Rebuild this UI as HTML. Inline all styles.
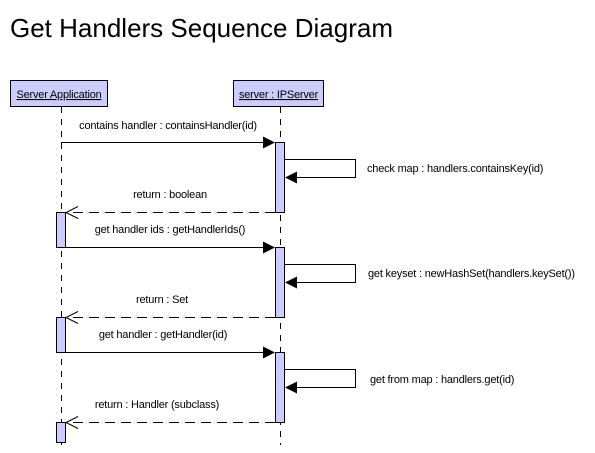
<!DOCTYPE html>
<html><head><style>
html,body{margin:0;padding:0;background:#fff;}
svg{display:block;}
text{font-family:"Liberation Sans",Arial,sans-serif;font-size:11px;fill:#000;letter-spacing:-0.2px;}
</style></head><body>
<svg width="595" height="453" viewBox="0 0 595 453">
<text x="10" y="37" style="font-size:26px;letter-spacing:0">Get Handlers Sequence Diagram</text>
<rect x="10.5" y="80.5" width="97" height="26" fill="#ccccff" stroke="#000"/>
<text x="59" y="98" text-anchor="middle" text-decoration="underline">Server Application</text>
<rect x="233.5" y="80.5" width="90" height="26" fill="#ccccff" stroke="#000"/>
<text x="278.5" y="98" text-anchor="middle" text-decoration="underline">server : IPServer</text>
<g stroke="#000" stroke-dasharray="6,6">
<line x1="61.5" y1="107" x2="61.5" y2="445"/>
<line x1="280.5" y1="107" x2="280.5" y2="445"/>
</g>
<g fill="#ccccff" stroke="#000">
<rect x="275.5" y="142.5" width="9" height="70"/>
<rect x="275.5" y="247.5" width="9" height="70"/>
<rect x="275.5" y="352.5" width="9" height="70"/>
<rect x="56.5" y="212.5" width="9" height="35"/>
<rect x="56.5" y="317.5" width="9" height="35"/>
<rect x="56.5" y="422.5" width="9" height="20"/>
</g>
<g stroke="#000" fill="none">
<line x1="61" y1="142.5" x2="265" y2="142.5"/>
<line x1="66" y1="247.5" x2="265" y2="247.5"/>
<line x1="66" y1="352.5" x2="265" y2="352.5"/>
<polyline points="285,159.5 355.5,159.5 355.5,177.5 296,177.5"/>
<polyline points="285,264.5 355.5,264.5 355.5,282.5 296,282.5"/>
<polyline points="285,369.5 355.5,369.5 355.5,387.5 296,387.5"/>
<g stroke-dasharray="10,6">
<line x1="275" y1="212.5" x2="67" y2="212.5"/>
<line x1="275" y1="317.5" x2="67" y2="317.5"/>
<line x1="275" y1="422.5" x2="67" y2="422.5"/>
</g>
<polyline points="78,206.5 66,212.5 78,218.5"/>
<polyline points="78,311.5 66,317.5 78,323.5"/>
<polyline points="78,416.5 66,422.5 78,428.5"/>
</g>
<g fill="#000">
<polygon points="263,136.5 275,142.5 263,148.5"/>
<polygon points="263,241.5 275,247.5 263,253.5"/>
<polygon points="263,346.5 275,352.5 263,358.5"/>
<polygon points="297,171.5 285,177.5 297,183.5"/>
<polygon points="297,276.5 285,282.5 297,288.5"/>
<polygon points="297,381.5 285,387.5 297,393.5"/>
</g>
<text x="168" y="129" text-anchor="middle">contains handler : containsHandler(id)</text>
<text x="170" y="198" text-anchor="middle">return : boolean</text>
<text x="170" y="233" text-anchor="middle">get handler ids : getHandlerIds()</text>
<text x="162" y="303" text-anchor="middle">return : Set</text>
<text x="163" y="338" text-anchor="middle">get handler : getHandler(id)</text>
<text x="157" y="408" text-anchor="middle">return : Handler (subclass)</text>
<text x="367" y="172">check map : handlers.containsKey(id)</text>
<text x="368" y="277">get keyset : newHashSet(handlers.keySet())</text>
<text x="370" y="383">get from map : handlers.get(id)</text>
</svg>
</body></html>
